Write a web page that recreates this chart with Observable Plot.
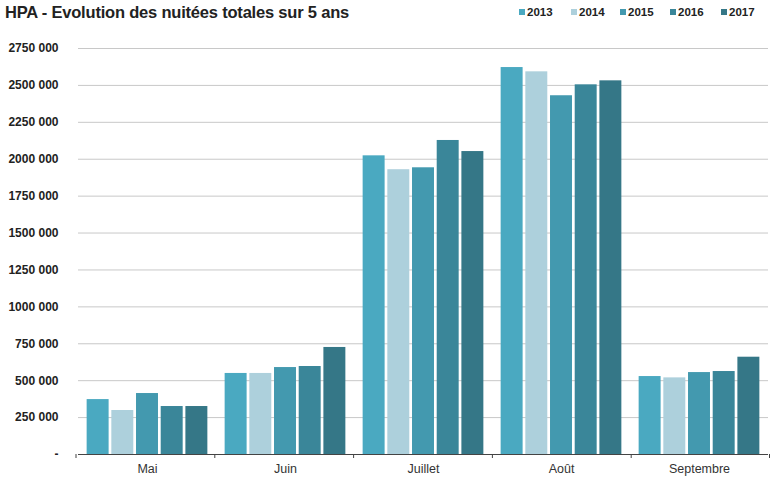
<!DOCTYPE html>
<html>
<head>
<meta charset="utf-8">
<script src="https://cdn.jsdelivr.net/npm/d3@7"></script>
<script src="https://cdn.jsdelivr.net/npm/@observablehq/plot@0.6"></script>
<style>
  html, body { margin: 0; padding: 0; background: #fff; }
  body { width: 770px; height: 484px; overflow: hidden; font-family: "Liberation Sans", Arial, sans-serif; }
  #head { position: relative; height: 30px; }
  #title { position: absolute; left: 5px; top: 3px; font-size: 16.5px; font-weight: bold; color: #222; letter-spacing: -0.2px; }
  #legend { position: absolute; left: 519px; top: 6px; font-size: 11.5px; font-weight: bold; color: #222; }
  .item { position: absolute; top: 0; white-space: nowrap; }
  .sw { display: inline-block; width: 6px; height: 6px; margin-right: 2px; vertical-align: 1px; }
</style>
</head>
<body>
<div id="head">
  <div id="title">HPA - Evolution des nuitées totales sur 5 ans</div>
  <div id="legend"></div>
</div>
<div id="chart"></div>
<script>
const months = ["Mai", "Juin", "Juillet", "Août", "Septembre"];
const years = ["2013", "2014", "2015", "2016", "2017"];
const colors = ["#4aa9c1", "#add0dc", "#4399af", "#3a8699", "#357787"];
const v2013 = [372000, 549000, 2023000, 2621000, 528000];
const v2014 = [298000, 549000, 1929000, 2592000, 519000];
const v2015 = [413000, 589000, 1942000, 2430000, 555000];
const v2016 = [325000, 596000, 2127000, 2504000, 562000];
const v2017 = [325000, 725000, 2052000, 2531000, 659000];
const yTicks = [0, 250000, 500000, 750000, 1000000, 1250000, 1500000, 1750000, 2000000, 2250000, 2500000, 2750000];

const series = [v2013, v2014, v2015, v2016, v2017];
const data = [];
months.forEach((m, i) => years.forEach((yr, j) => data.push({month: m, year: yr, value: series[j][i]})));

// legend
const legend = document.getElementById("legend");
const legendX = [0, 52, 101, 151, 202];
years.forEach((yr, j) => {
  const it = document.createElement("span");
  it.className = "item";
  it.style.left = legendX[j] + "px";
  it.innerHTML = `<span class="sw" style="background:${colors[j]}"></span>${yr}`;
  legend.appendChild(it);
});

const fmt = d => d === 0 ? "-" : `${Math.floor(d / 1000)} 000`;

const chart = Plot.plot({
  width: 770,
  height: 454,
  marginLeft: 76,
  marginRight: 0,
  marginTop: 18,
  marginBottom: 30,
  style: {fontFamily: "Liberation Sans, Arial, sans-serif", background: "#fff", overflow: "visible"},
  facet: {data, x: "month"},
  fx: {domain: months, padding: 0, axis: "bottom", tickSize: 0, tickPadding: 10, label: null, fontSize: 12},
  x: {domain: years, paddingInner: 0.11, paddingOuter: 0.35, round: false, axis: null},
  y: {domain: [0, 2750000], ticks: yTicks, tickFormat: fmt, tickSize: 0, tickPadding: 20, label: null},
  color: {domain: years, range: colors},
  marks: [
    Plot.ruleY(yTicks.filter(d => d > 0), {stroke: "#c8c8c8", strokeWidth: 1}),
    Plot.barY(data, {x: "year", y: "value", fill: "year"}),
    Plot.ruleY([0], {stroke: "#444", strokeWidth: 1})
  ]
});

d3.select(chart).selectAll("g[aria-label='y-axis tick label'] text, g[aria-label='y-axis'] text")
  .style("font-weight", "bold").style("font-size", "12px").attr("fill", "#222");
d3.select(chart).selectAll("g[aria-label='fx-axis tick label'] text, g[aria-label='fx-axis'] text")
  .style("font-size", "12.5px").attr("fill", "#333");

// boundary ticks on the category axis, from the library's fx and y scales
const fxS = chart.scale("fx");
const yS = chart.scale("y");
const band = d3.scaleBand().domain(fxS.domain).range(fxS.range).padding(0);
const edges = months.map(m => band(m)).concat([band(months[months.length - 1]) + band.bandwidth()]);
const y0 = yS.apply ? yS.apply(0) : d3.scaleLinear().domain(yS.domain).range(yS.range)(0);
d3.select(chart).append("g").selectAll("line").data(edges).join("line")
  .attr("x1", d => Math.min(d, 769.5)).attr("x2", d => Math.min(d, 769.5))
  .attr("y1", y0).attr("y2", y0 + 4)
  .attr("stroke", "#444").attr("stroke-width", 1);

document.getElementById("chart").appendChild(chart);
</script>
</body>
</html>
